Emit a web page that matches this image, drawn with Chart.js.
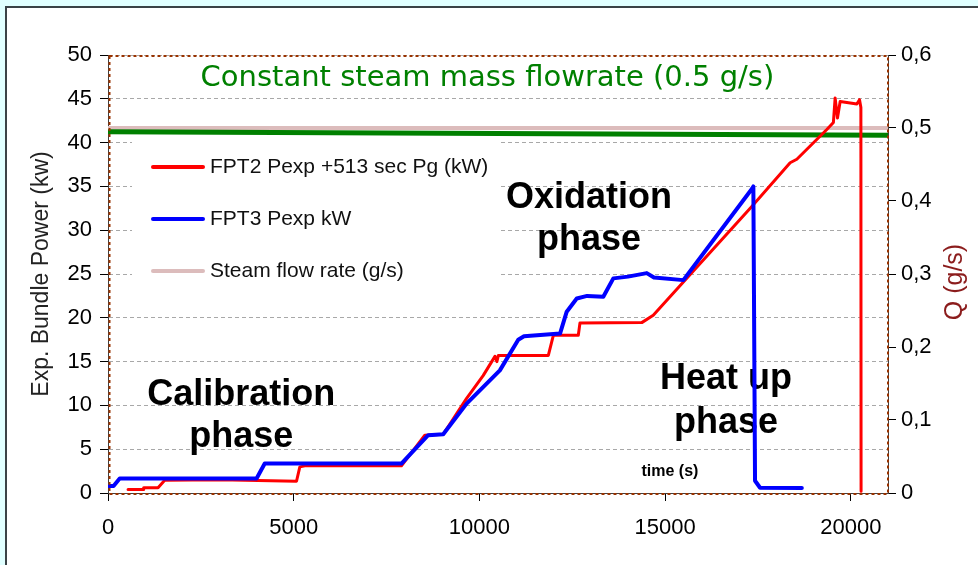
<!DOCTYPE html>
<html>
<head>
<meta charset="utf-8">
<script src="https://cdn.jsdelivr.net/npm/chart.js@4.4.1/dist/chart.umd.min.js"></script>
<style>
  html, body { margin: 0; padding: 0; }
  body { width: 978px; height: 565px; background: #e0ffff; position: relative; overflow: hidden; }
  #frame { position: absolute; left: 5px; top: 6px; right: 0; bottom: 0; background: #fff;
           border-top: 2px solid #3a4246; border-left: 2px solid #3a4246; }
  #chart { position: absolute; left: 0; top: 0; }
</style>
</head>
<body>
<div id="frame"></div>
<canvas id="chart" width="978" height="565"></canvas>
<script>
// FPT2 power, shifted by +513 s (kW)
const fpt2Time = [540, 943, 960, 1347, 1527, 3000, 5075, 5165, 5300, 7900, 8530, 9025,
  9655, 10100, 10418, 10470, 10510, 11855, 11990, 12662, 12707, 14370, 14680, 17333,
  18365, 18545, 19353, 19530, 19577, 19640, 19712, 20162, 20233, 20270, 20275];
const fpt2Power = [0.4, 0.4, 0.6, 0.6, 1.45, 1.5, 1.34, 2.98, 3.1, 3.1, 6.6, 6.7,
  10.8, 13.4, 15.6, 15.0, 15.7, 15.7, 18.0, 18.0, 19.4, 19.45, 20.3, 32.7,
  37.7, 38.1, 41.5, 42.3, 45.1, 42.8, 44.7, 44.4, 44.9, 44.0, 0.2];

// FPT3 power (kW)
const fpt3Time = [0, 150, 315, 4000, 4220, 7900, 8620, 9025, 9655, 10550, 11045, 11200,
  12170, 12350, 12620, 12900, 13335, 13605, 14000, 14505, 14700, 15490, 17333, 17375,
  17420, 17555, 18680];
const fpt3Power = [0.8, 0.8, 1.65, 1.65, 3.36, 3.36, 6.6, 6.7, 10.2, 14.0, 17.5, 17.9,
  18.2, 20.7, 22.2, 22.5, 22.4, 24.5, 24.7, 25.1, 24.6, 24.3, 34.7, 35.0,
  1.4, 0.6, 0.57];

// steam flow rate (g/s)
const steamTime = [0, 21000];
const steamFlow = [0.5, 0.5];

// hand drawn "constant flowrate" bar (g/s)
const constTime = [0, 21000];
const constFlow = [0.495, 0.49];

// ticks
const timeTicks = [0, 5000, 10000, 15000, 20000];
const powerTicks = [0, 5, 10, 15, 20, 25, 30, 35, 40, 45, 50];
const flowTicks = [0, 0.1, 0.2, 0.3, 0.4, 0.5, 0.6];

const toPoints = (xs, ys) => xs.map((t, i) => ({ x: t, y: ys[i] }));
const setTicks = (vals) => (scale) => { scale.ticks = vals.map((v) => ({ value: v })); };

// text placed in data coordinates (time, kW)
const notes = [
  { text: "Calibration", t: 3588, p: 10.0 },
  { text: "phase", t: 3588, p: 5.2 },
  { text: "Oxidation", t: 12950, p: 32.55 },
  { text: "phase", t: 12950, p: 27.75 },
  { text: "Heat up", t: 16640, p: 11.87 },
  { text: "phase", t: 16640, p: 6.83 },
];

const FONT = '"Liberation Sans", Arial, sans-serif';

const overlay = {
  id: "overlay",
  beforeDatasetsDraw(chart) {
    const { ctx, chartArea: a, scales } = chart;
    const x = scales.x, y = scales.y;
    ctx.save();

    // legend box, hides grid behind it
    ctx.fillStyle = "#fff";
    ctx.fillRect(a.left + 24, a.top + 86, 368, 150);
    ctx.textAlign = "left";
    ctx.textBaseline = "middle";
    ctx.font = "21px " + FONT;
    chart.data.datasets.slice(0, 3).forEach((ds, i) => {
      const ly = a.top + 112 + i * 52;
      ctx.strokeStyle = ds.borderColor;
      ctx.lineWidth = 4;
      ctx.lineCap = "round";
      ctx.beginPath();
      ctx.moveTo(a.left + 45, ly);
      ctx.lineTo(a.left + 95, ly);
      ctx.stroke();
      ctx.fillStyle = "#111";
      ctx.fillText(ds.label, a.left + 102, ly);
    });

    // phase labels
    ctx.textAlign = "center";
    ctx.textBaseline = "alphabetic";
    ctx.fillStyle = "#000";
    ctx.font = "bold 36px " + FONT;
    notes.forEach((n) => ctx.fillText(n.text, x.getPixelForValue(n.t), y.getPixelForValue(n.p)));

    ctx.font = "bold 16px " + FONT;
    ctx.fillText("time (s)", x.getPixelForValue(15130), y.getPixelForValue(1.9));

    ctx.fillStyle = "#008000";
    ctx.font = '29px "DejaVu Sans", sans-serif';
    ctx.fillText("Constant steam mass flowrate (0.5 g/s)", x.getPixelForValue(10215), y.getPixelForValue(46.45));
    ctx.restore();
  },
  afterDraw(chart) {
    const { ctx, chartArea: a } = chart;
    ctx.save();
    // dotted plot border
    ctx.strokeStyle = "#993300";
    ctx.lineWidth = 2;
    ctx.setLineDash([3, 3]);
    ctx.strokeRect(a.left + 1.5, a.top + 1, a.right - a.left - 1.5, a.bottom - a.top);
    ctx.setLineDash([]);

    // right axis title, reads bottom to top
    ctx.translate(955, 282);
    ctx.rotate(-Math.PI / 2);
    ctx.fillStyle = "#8b1c1c";
    ctx.font = "25px " + FONT;
    ctx.textAlign = "center";
    ctx.textBaseline = "middle";
    ctx.fillText("Q (g/s)", 0, 0);
    ctx.restore();
  },
};

new Chart(document.getElementById("chart"), {
  type: "line",
  data: {
    datasets: [
      {
        label: "FPT2 Pexp +513 sec Pg (kW)",
        data: toPoints(fpt2Time, fpt2Power),
        borderColor: "#ff0000",
        borderWidth: 3,
        yAxisID: "y",
        order: 1,
      },
      {
        label: "FPT3 Pexp kW",
        data: toPoints(fpt3Time, fpt3Power),
        borderColor: "#0000ff",
        borderWidth: 4,
        yAxisID: "y",
        order: 0,
      },
      {
        label: "Steam flow rate (g/s)",
        data: toPoints(steamTime, steamFlow),
        borderColor: "#dcbcbc",
        borderWidth: 4,
        yAxisID: "y2",
        order: 3,
      },
      {
        label: "constant",
        data: toPoints(constTime, constFlow),
        borderColor: "#008000",
        borderWidth: 5,
        yAxisID: "y2",
        order: 2,
      },
    ],
  },
  options: {
    responsive: false,
    animation: false,
    parsing: false,
    elements: {
      point: { radius: 0 },
      line: { tension: 0, borderJoinStyle: "round", borderCapStyle: "round" },
    },
    layout: { padding: { top: 55, left: 0, right: 0, bottom: 0 } },
    plugins: {
      legend: { display: false },
      tooltip: { enabled: false },
    },
    scales: {
      x: {
        type: "linear",
        min: 0,
        max: 21000,
        afterBuildTicks: setTicks(timeTicks),
        afterFit: (s) => { s.height = 72; },
        grid: { drawOnChartArea: false, tickLength: 8, tickColor: "#000" },
        border: { color: "#404040", width: 1 },
        ticks: {
          font: { family: FONT, size: 22 },
          color: "#000",
          padding: 14,
          maxRotation: 0,
          callback: (v) => String(v),
        },
      },
      y: {
        type: "linear",
        position: "left",
        min: 0,
        max: 50,
        afterBuildTicks: setTicks(powerTicks),
        afterFit: (s) => { s.width = 108; },
        grid: { color: "#a8a8a8", lineWidth: 1, tickLength: 8, tickColor: "#000" },
        border: { color: "#404040", width: 1, dash: [4, 3] },
        ticks: { font: { family: FONT, size: 22 }, color: "#000", padding: 8 },
        title: {
          display: true,
          text: "Exp. Bundle Power (kw)",
          font: { family: FONT, size: 23 },
          color: "#222",
          padding: { top: 28, bottom: 0 },
        },
      },
      y2: {
        type: "linear",
        position: "right",
        min: 0,
        max: 0.6,
        afterBuildTicks: setTicks(flowTicks),
        afterFit: (s) => { s.width = 90; },
        grid: { drawOnChartArea: false, tickLength: 8, tickColor: "#000" },
        border: { color: "#404040", width: 1 },
        ticks: {
          font: { family: FONT, size: 22 },
          color: "#000",
          padding: 5,
          callback: (v) => (v === 0 ? "0" : v.toFixed(1).replace(".", ",")),
        },
      },
    },
  },
  plugins: [overlay],
});
</script>
</body>
</html>
